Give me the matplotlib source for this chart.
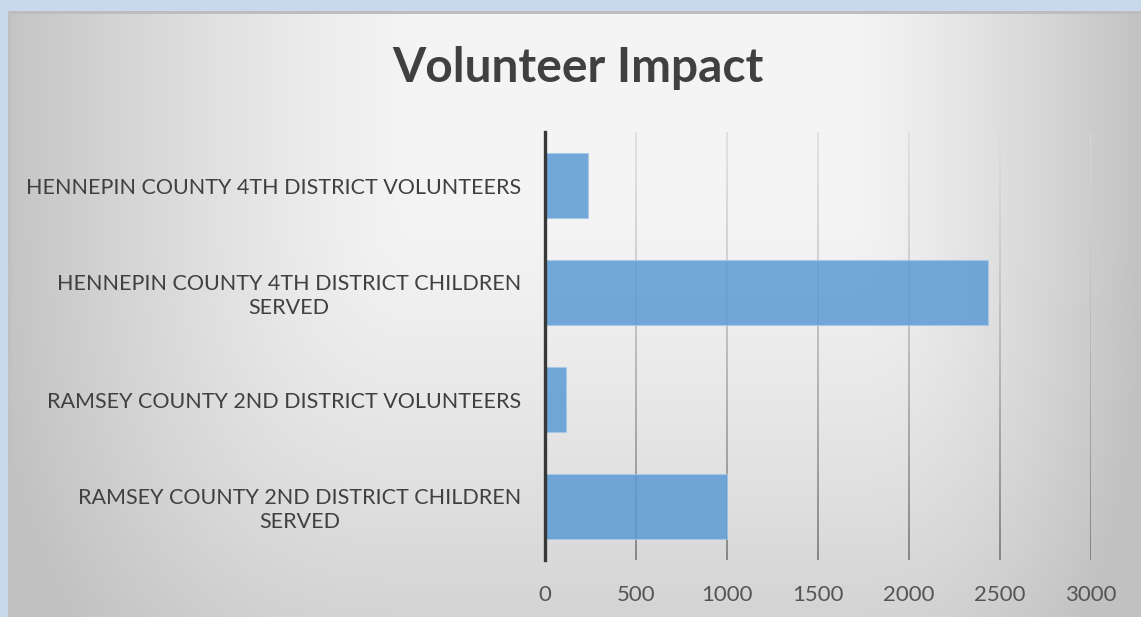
import matplotlib.pyplot as plt
import numpy as np
from matplotlib.collections import LineCollection
from matplotlib.colors import to_rgb

categories = ['HENNEPIN COUNTY 4TH DISTRICT VOLUNTEERS',
              'HENNEPIN COUNTY 4TH DISTRICT CHILDREN\nSERVED',
              'RAMSEY COUNTY 2ND DISTRICT VOLUNTEERS',
              'RAMSEY COUNTY 2ND DISTRICT CHILDREN\nSERVED']
values = [235, 2435, 115, 1000]
x_ticks = [0, 500, 1000, 1500, 2000, 2500, 3000]

W, H = 1141, 617
fig = plt.figure(figsize=(W / 100, H / 100), dpi=100)

# background: blue frame + grey panel with soft gradient
bg = fig.add_axes([0, 0, 1, 1], zorder=-5)
yy, xx = np.mgrid[0:H, 0:W].astype(float)
left = np.clip(1 - (xx - 8) / 420, 0, 1) ** 1.3 * 0.19
right = np.clip(1 - (W - xx) / 300, 0, 1) ** 1.3 * 0.2
bottom = np.clip(1 - (H - yy) / 420, 0, 1) ** 1.3 * 0.13
dark = np.sqrt(left ** 2 + right ** 2 + bottom ** 2)
v = np.clip(0.96 - dark, 0.76, 1)
img = np.dstack([v, v, v])
outside = (xx < 8) | (yy < 11)
img[outside] = to_rgb('#c9d9ec')
img[(yy >= 11) & (yy < 14) & (xx >= 8)] = to_rgb('#bdbdbd')
img[(xx >= 8) & (xx < 11) & (yy >= 11)] = to_rgb('#c0c0c0')
bg.imshow(img, aspect='auto', interpolation='bilinear')
bg.axis('off')

ax = fig.add_axes([545 / W, 1 - 560 / H, (1091 - 545) / W, (560 - 132) / H])
ax.patch.set_alpha(0)
ypos = np.arange(len(categories))
ax.set_xlim(0, 3000)
ax.set_ylim(len(categories) - 0.5, -0.5)

# vertical gridlines, lighter at the top, darker at the bottom
ys = np.linspace(-0.5, len(categories) - 0.5, 60)
for xt in x_ticks[1:]:
    segs = [[(xt, ys[i]), (xt, ys[i + 1])] for i in range(len(ys) - 1)]
    t = np.linspace(0, 1, len(segs))
    g = 0.86 - 0.42 * t ** 1.3
    cols = np.column_stack([g, g, g])
    ax.add_collection(LineCollection(segs, colors=cols, linewidths=1.1, zorder=1))

ax.barh(ypos, values, height=0.6, color='#5b9bd5', alpha=0.85,
        edgecolor='#a8c8e8', linewidth=0.8, zorder=2)

ax.axvline(0, color='#383838', linewidth=2.4, zorder=3, clip_on=False)

for s in ax.spines.values():
    s.set_visible(False)
ax.set_xticks(x_ticks)
ax.set_xticklabels([str(t) for t in x_ticks])
ax.set_yticks(ypos)
ax.set_yticklabels(categories, multialignment='center')
ax.tick_params(axis='x', length=0, pad=18, labelsize=16, labelcolor='#555555')
ax.tick_params(axis='y', length=0, pad=17, labelsize=15.5, labelcolor='#404040')
for lab in ax.get_xticklabels() + ax.get_yticklabels():
    lab.set_fontfamily('Lato')

fig.text(578 / W, 1 - 68 / H, 'Volunteer Impact', ha='center', va='center',
         fontsize=34.5, fontweight='bold', family='Lato', color='#404040')

plt.savefig('out.png', dpi=100)
